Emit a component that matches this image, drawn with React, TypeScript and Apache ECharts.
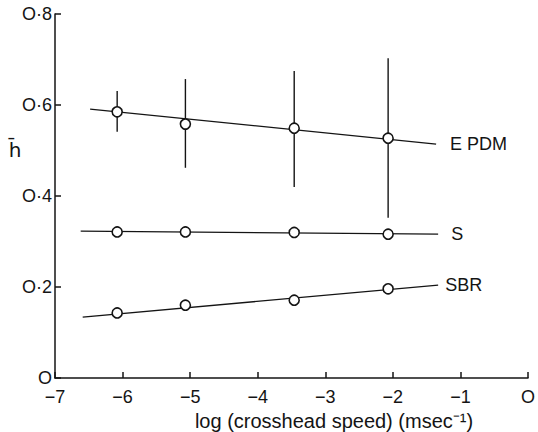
import React, { useEffect, useRef } from "react";
import * as echarts from "echarts";

// log(crosshead speed) positions of the measured points
const xPoints = [-6.08, -5.07, -3.46, -2.07];
// EPDM mean h and error-bar range
const epdmVals = [0.585, 0.558, 0.549, 0.527];
const epdmLow = [0.541, 0.462, 0.42, 0.352];
const epdmHigh = [0.631, 0.657, 0.675, 0.703];
// S
const sVals = [0.321, 0.321, 0.32, 0.316];
// SBR
const sbrVals = [0.143, 0.16, 0.171, 0.196];

// fitted lines (start / end)
const epdmFitX = [-6.48, -1.36];
const epdmFitY = [0.591, 0.514];
const sFitX = [-6.62, -1.33];
const sFitY = [0.323, 0.316];
const sbrFitX = [-6.59, -1.33];
const sbrFitY = [0.134, 0.204];

const seriesNames = ["E PDM", "S", "SBR"];
const xTitle = "log (crosshead speed) (msec\u207B\u00B9)";
const yTitle = "h\u0304";

const INK = "#141414";
const FONT = "Liberation Sans";

export default function App() {
  const ref = useRef<HTMLDivElement>(null);
  useEffect(() => {
    document.body.style.margin = "0";
    const chart = echarts.init(ref.current!, null, { renderer: "svg" });
    const pairs = (xs: number[], ys: number[]) => xs.map((x, i) => [x, ys[i]]);
    const fitLine = (name: string, xs: number[], ys: number[], dist: number) => ({
      type: "line",
      name,
      data: pairs(xs, ys),
      showSymbol: false,
      symbol: "none",
      z: 2,
      lineStyle: { color: INK, width: 1.3 },
      endLabel: {
        show: true,
        formatter: name,
        distance: dist,
        color: INK,
        fontSize: 18,
        fontFamily: FONT,
      },
    });
    const points = (vals: number[]) => ({
      type: "scatter",
      data: pairs(xPoints, vals),
      symbol: "circle",
      symbolSize: 10,
      z: 5,
      itemStyle: { color: "#fff", borderColor: INK, borderWidth: 1.6, opacity: 1 },
    });
    chart.setOption({
      animation: false,
      backgroundColor: "#fff",
      grid: { left: 55, right: 10, top: 14, bottom: 54, outerBoundsMode: "none" },
      xAxis: {
        type: "value",
        min: -7,
        max: 0,
        interval: 1,
        splitLine: { show: false },
        axisLine: { show: true, onZero: false, lineStyle: { color: INK, width: 1.5 } },
        axisTick: { show: true, inside: true, length: 6, lineStyle: { color: INK, width: 1.5 } },
        axisLabel: {
          color: INK,
          fontSize: 18,
          fontFamily: FONT,
          margin: 10,
          formatter: (v: number) => (v === 0 ? "O" : "\u2212" + Math.abs(v)),
        },
      },
      yAxis: {
        type: "value",
        min: 0,
        max: 0.8,
        interval: 0.2,
        splitLine: { show: false },
        axisLine: { show: true, onZero: false, lineStyle: { color: INK, width: 1.5 } },
        axisTick: { show: true, inside: true, length: 6, lineStyle: { color: INK, width: 1.5 } },
        axisLabel: {
          color: INK,
          fontSize: 18,
          fontFamily: FONT,
          margin: 3,
          formatter: (v: number) => (v === 0 ? "O" : "O\u00B7" + Math.round(v * 10)),
        },
      },
      graphic: [
        {
          type: "text",
          x: 334,
          y: 421,
          style: {
            text: xTitle,
            fill: INK,
            fontSize: 20,
            fontFamily: FONT,
            align: "center",
            verticalAlign: "middle",
          },
        },
        {
          type: "text",
          x: 15,
          y: 150,
          style: {
            text: yTitle,
            fill: INK,
            fontSize: 20,
            fontFamily: "DejaVu Sans",
            align: "center",
            verticalAlign: "middle",
          },
        },
      ],
      series: [
        fitLine(seriesNames[0], epdmFitX, epdmFitY, 14),
        fitLine(seriesNames[1], sFitX, sFitY, 13),
        fitLine(seriesNames[2], sbrFitX, sbrFitY, 7),
        {
          type: "custom",
          z: 3,
          data: xPoints.map((x, i) => [x, epdmLow[i], epdmHigh[i]]),
          renderItem: (_p: any, api: any) => {
            const x = api.value(0);
            const lo = api.coord([x, api.value(1)]);
            const hi = api.coord([x, api.value(2)]);
            return {
              type: "line",
              shape: { x1: lo[0], y1: lo[1], x2: hi[0], y2: hi[1] },
              style: { stroke: INK, lineWidth: 1.4 },
            };
          },
        },
        points(epdmVals),
        points(sVals),
        points(sbrVals),
      ],
    });
    return () => chart.dispose();
  }, []);
  return <div ref={ref} style={{ width: 538, height: 432 }} />;
}
